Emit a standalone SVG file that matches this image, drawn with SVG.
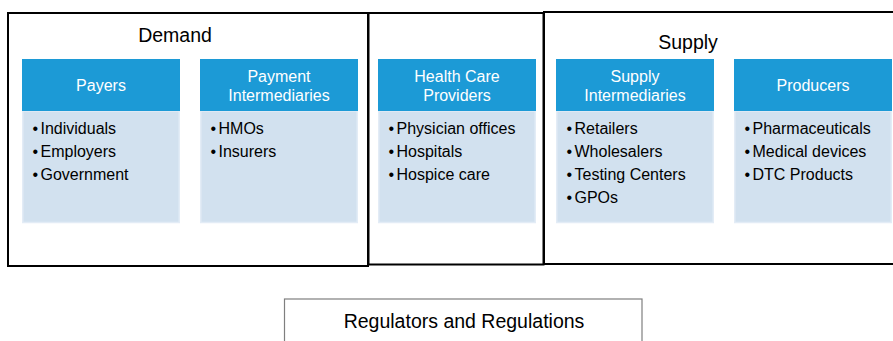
<svg xmlns="http://www.w3.org/2000/svg" width="893" height="341" viewBox="0 0 893 341">
  <style>
    .frame { fill: none; stroke: #000; stroke-width: 2; }
    .reg { fill: #fff; stroke: #7f7f7f; stroke-width: 1.2; }
    .title { font-family: "Liberation Sans", Arial, sans-serif; font-size: 19.5px; fill: #000; text-anchor: middle; }
    .head { fill: #1C9AD6; }
    .body { fill: #D2E1EF; stroke: #E3ECF6; stroke-width: 1.5; }
    .htext { font-family: "Liberation Sans", Arial, sans-serif; font-size: 16px; fill: #fff; text-anchor: middle; }
    .item { font-family: "Liberation Sans", Arial, sans-serif; font-size: 16px; fill: #000; }
  </style>

  <rect width="893" height="341" fill="#fff"/>

  <!-- grouping frames -->
  <g id="frames">
    <rect class="frame" x="8" y="13" width="360" height="253"/>
    <rect class="frame" x="544" y="12" width="360" height="252"/>
    <rect class="frame" x="368.5" y="13" width="175" height="251.5" stroke-width="2.5"/>
    <text class="title" x="175" y="42">Demand</text>
    <text class="title" x="688" y="49">Supply</text>
  </g>

  <g id="payers">
    <rect class="body" x="22.75" y="111" width="156.5" height="111.5"/>
    <rect class="head" x="22" y="59" width="158" height="52"/>
    <text class="htext" x="101" y="91">Payers</text>
    <text class="item"><tspan x="32.5" y="134">•</tspan><tspan x="40.5" y="134">Individuals</tspan></text>
    <text class="item"><tspan x="32.5" y="157">•</tspan><tspan x="40.5" y="157">Employers</tspan></text>
    <text class="item"><tspan x="32.5" y="180">•</tspan><tspan x="40.5" y="180">Government</tspan></text>
  </g>

  <g id="payment-intermediaries">
    <rect class="body" x="200.75" y="111" width="156.5" height="111.5"/>
    <rect class="head" x="200" y="59" width="158" height="52"/>
    <text class="htext" x="279" y="82">Payment</text>
    <text class="htext" x="279" y="101">Intermediaries</text>
    <text class="item"><tspan x="210.5" y="134">•</tspan><tspan x="218.5" y="134">HMOs</tspan></text>
    <text class="item"><tspan x="210.5" y="157">•</tspan><tspan x="218.5" y="157">Insurers</tspan></text>
  </g>

  <g id="providers">
    <rect class="body" x="378.75" y="111" width="156.5" height="111.5"/>
    <rect class="head" x="378" y="59" width="158" height="52"/>
    <text class="htext" x="457" y="82">Health Care</text>
    <text class="htext" x="457" y="101">Providers</text>
    <text class="item"><tspan x="388.5" y="134">•</tspan><tspan x="396.5" y="134">Physician offices</tspan></text>
    <text class="item"><tspan x="388.5" y="157">•</tspan><tspan x="396.5" y="157">Hospitals</tspan></text>
    <text class="item"><tspan x="388.5" y="180">•</tspan><tspan x="396.5" y="180">Hospice care</tspan></text>
  </g>

  <g id="supply-intermediaries">
    <rect class="body" x="556.75" y="111" width="156.5" height="111.5"/>
    <rect class="head" x="556" y="59" width="158" height="52"/>
    <text class="htext" x="635" y="82">Supply</text>
    <text class="htext" x="635" y="101">Intermediaries</text>
    <text class="item"><tspan x="566.5" y="134">•</tspan><tspan x="574.5" y="134">Retailers</tspan></text>
    <text class="item"><tspan x="566.5" y="157">•</tspan><tspan x="574.5" y="157">Wholesalers</tspan></text>
    <text class="item"><tspan x="566.5" y="180">•</tspan><tspan x="574.5" y="180">Testing Centers</tspan></text>
    <text class="item"><tspan x="566.5" y="203">•</tspan><tspan x="574.5" y="203">GPOs</tspan></text>
  </g>

  <g id="producers">
    <rect class="body" x="734.75" y="111" width="156.5" height="111.5"/>
    <rect class="head" x="734" y="59" width="158" height="52"/>
    <text class="htext" x="813" y="91">Producers</text>
    <text class="item"><tspan x="744.5" y="134">•</tspan><tspan x="752.5" y="134">Pharmaceuticals</tspan></text>
    <text class="item"><tspan x="744.5" y="157">•</tspan><tspan x="752.5" y="157">Medical devices</tspan></text>
    <text class="item"><tspan x="744.5" y="180">•</tspan><tspan x="752.5" y="180">DTC Products</tspan></text>
  </g>

  <g id="regulators">
    <rect class="reg" x="284.5" y="299" width="357.5" height="60"/>
    <text class="title" x="464" y="328">Regulators and Regulations</text>
  </g>

  <g id="connectors"></g>
</svg>
